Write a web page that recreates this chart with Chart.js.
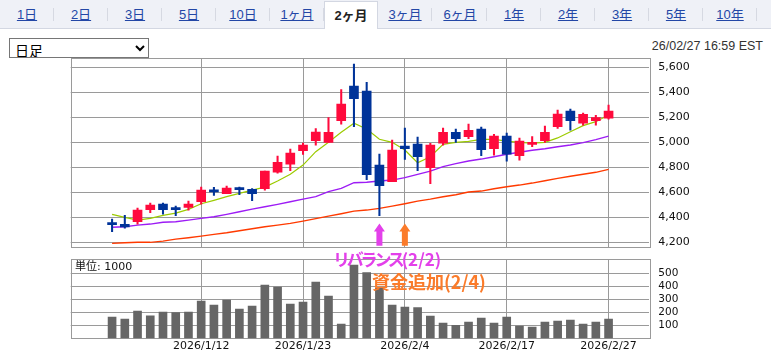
<!DOCTYPE html>
<html lang="ja">
<head>
<meta charset="utf-8">
<script src="https://cdn.jsdelivr.net/npm/chart.js@4"></script>
<style>
  body { margin: 0; background: #fff; }
  #wrap { position: relative; width: 771px; height: 352px; overflow: hidden; font-family: "Liberation Sans", "Noto Sans CJK JP", sans-serif; }
  .strip { position: absolute; left: 0; top: 0; width: 771px; height: 28px; background: #eff1f7; border-bottom: 1px solid #d3d7e2; }
  .tab { position: absolute; top: 0; width: 54px; height: 28px; line-height: 30px; text-align: center; font-size: 13px; color: #2347a6; text-decoration: underline; }
  .tab::after { content: ""; position: absolute; right: 0; top: 8px; height: 13px; border-right: 1px solid #d6d9e2; }
  .tab.on { top: 1px; height: 28px; background: #fff; border: 1px solid #d3d7e2; border-bottom: none; color: #222; font-weight: bold; text-decoration: none; box-sizing: border-box; line-height: 28px; }
  .tab.on::after { display: none; }
  select { position: absolute; left: 9px; top: 38px; width: 140px; height: 20px; font-size: 14px; line-height: 18px; font-family: "Noto Sans CJK JP"; border: 1px solid #767676; border-radius: 0; background: #fff; padding: 0 1px; color: #000; }
  .stamp { position: absolute; right: 8px; top: 38px; line-height: 16px; font-size: 12.5px; color: #333; }
  canvas { position: absolute; left: 0; }
  .unit { position: absolute; left: 75px; top: 260px; font-size: 11px; line-height: 13px; font-family: "DejaVu Sans", "Noto Sans CJK JP"; color: #111; }
  .note { position: absolute; font-family: "Noto Sans CJK JP"; font-weight: bold; white-space: nowrap; z-index: 2; }
  .n1 { left: 333px; top: 250px; font-size: 17px; line-height: 17px; color: #e340ea; }
  .n1 span { letter-spacing: -3.2px; }
  .n2 { left: 372px; top: 272px; font-size: 18px; line-height: 18px; color: #fb7b2a; }
</style>
</head>
<body>
<div id="wrap">
  <div class="strip"></div>
  <div class="tab" style="left:0px">1日</div>
  <div class="tab" style="left:54px">2日</div>
  <div class="tab" style="left:108px">3日</div>
  <div class="tab" style="left:162px">5日</div>
  <div class="tab" style="left:216px">10日</div>
  <div class="tab" style="left:270px">1ヶ月</div>
  <div class="tab on" style="left:324px">2ヶ月</div>
  <div class="tab" style="left:378px">3ヶ月</div>
  <div class="tab" style="left:433px">6ヶ月</div>
  <div class="tab" style="left:487px">1年</div>
  <div class="tab" style="left:541px">2年</div>
  <div class="tab" style="left:595px">3年</div>
  <div class="tab" style="left:649px">5年</div>
  <div class="tab" style="left:703px">10年</div>
  <select><option>日足</option></select>
  <div class="stamp">26/02/27 16:59 EST</div>
  <canvas id="price" width="771" height="205" style="top:50px"></canvas>
  <canvas id="vol" width="771" height="102" style="top:250px"></canvas>
  <div class="unit">単位: 1000</div>
  <div class="note n1"><span>リバランス</span>(2/2)</div>
  <div class="note n2">資金追加(2/4)</div>
</div>
<script>
// trading days shown (index = position on the x axis)
var dates = ['12/31','1/2','1/5','1/6','1/7','1/8','1/9','1/12','1/13','1/14','1/15','1/16','1/20','1/21','1/22','1/23',
  '1/26','1/27','1/28','1/29','1/30','2/2','2/3','2/4','2/5','2/6','2/9','2/10','2/11','2/12','2/13',
  '2/17','2/18','2/19','2/20','2/23','2/24','2/25','2/26','2/27'];

var opens  = [4350,4344,4365,4461,4506,4466,4480,4525,4608,4590,4634,4624,4629,4762,4826,4933,5013,5000,5173,5450,
              5410,4818,4685,4970,4986,4797,4994,5080,5045,5106,4949,5050,4893,4984,5013,5125,5250,5154,5173,5194];
var highs  = [4386,4416,4474,4514,4514,4490,4530,4642,4640,4650,4642,4629,4770,4890,4946,4994,5109,5197,5421,5626,
              5480,4906,5018,5114,5042,4992,5114,5106,5146,5122,5064,5074,5034,5045,5130,5258,5266,5234,5216,5298];
var lows   = [4285,4314,4346,4437,4426,4413,4458,4506,4576,4589,4581,4533,4618,4754,4773,4904,4978,5000,5146,5125,
              4701,4413,4685,4864,4773,4669,4978,5000,5029,4893,4898,4850,4858,4965,5000,5112,5098,5138,5138,5186];
var closes = [4342,4323,4458,4498,4461,4462,4506,4618,4603,4634,4621,4590,4770,4840,4914,4978,5082,5080,5306,5349,
              4741,4653,4938,4949,4885,4978,5080,5029,5096,4941,5050,4906,5010,5000,5080,5226,5173,5224,5197,5250];

// moving averages
var ma5  = [4424,4400,4378,4392,4416,4434,4464,4509,4536,4565,4592,4618,4642,4690,4744,4818,4925,5000,5080,5152,
            5106,5024,5000,4938,4837,4885,4984,5000,5008,5024,5024,5010,5000,4994,5000,5035,5085,5133,5165,5218];
var ma25 = [4320,4325,4338,4346,4360,4365,4378,4392,4405,4424,4445,4466,4485,4504,4525,4546,4565,4605,4632,4677,
            4680,4690,4698,4717,4744,4770,4805,4829,4850,4866,4885,4904,4920,4936,4949,4965,4978,4997,5021,5050];
var ma75 = [4192,4197,4200,4200,4210,4226,4237,4250,4264,4277,4293,4309,4325,4338,4352,4370,4390,4410,4429,4450,
            4458,4472,4490,4509,4530,4546,4565,4581,4602,4610,4629,4645,4658,4674,4693,4712,4728,4744,4760,4784];

// volume, unit 1000
var volume = [164,148,210,172,202,197,202,287,256,295,225,248,410,395,264,279,433,325,110,564,
              505,385,256,241,236,171,118,100,125,156,118,164,95,87,125,133,140,110,125,148];

var dateTicks = [7, 15, 23, 31, 39];
var dateTickLabels = ['2026/1/12','2026/1/23','2026/2/4','2026/2/17','2026/2/27'];
var priceTicks = [4200,4400,4600,4800,5000,5200,5400,5600];
var volTicks = [100,200,300,400,500];
var arrowDays = [21, 23];
var arrowColors = ['#e340ea', '#fb7b2a'];

var UP = '#ff0a3c', DOWN = '#003399', GRID = '#9a9a9a';
var candleColors = opens.map(function (o, i) { return closes[i] >= o ? UP : DOWN; });

Chart.defaults.font.family = 'DejaVu Sans';
Chart.defaults.font.size = 11;
Chart.defaults.color = '#111';

var frame = {
  id: 'frame',
  beforeDatasetsDraw: function (chart) {
    var a = chart.chartArea, ctx = chart.ctx;
    ctx.save();
    ctx.strokeStyle = GRID;
    ctx.lineWidth = 1;
    ctx.strokeRect(Math.round(a.left) + 0.5, Math.round(a.top) + 0.5, Math.round(a.right - a.left), Math.round(a.bottom - a.top));
    ctx.restore();
  }
};

var arrows = {
  id: 'arrows',
  afterDatasetsDraw: function (chart) {
    var ctx = chart.ctx, xs = chart.scales.x, ys = chart.scales.y;
    arrowDays.forEach(function (d, k) {
      var x = xs.getPixelForValue(d);
      var tip = ys.getPixelForValue(4350), base = ys.getPixelForValue(4172);
      ctx.save();
      ctx.fillStyle = arrowColors[k];
      ctx.beginPath();
      ctx.moveTo(x, tip);
      ctx.lineTo(x + 5.5, tip + 8);
      ctx.lineTo(x + 3, tip + 8);
      ctx.lineTo(x + 3, base);
      ctx.lineTo(x - 3, base);
      ctx.lineTo(x - 3, tip + 8);
      ctx.lineTo(x - 5.5, tip + 8);
      ctx.closePath();
      ctx.fill();
      ctx.restore();
    });
  }
};

function fixY(s) { s.width = 60; s.paddingTop = 0; s.paddingBottom = 0; }
function pts(arr) { return arr.map(function (v, i) { return { x: i, y: v }; }); }
function dateTickBuild(s) { s.ticks = dateTicks.map(function (v) { return { value: v }; }); }

new Chart(document.getElementById('price'), {
  type: 'bar',
  data: {
    datasets: [
      { type: 'bar', data: opens.map(function (o, i) { return { x: i, y: [o, closes[i]] }; }),
        backgroundColor: candleColors, barThickness: 9, minBarLength: 2, grouped: false, order: 0 },
      { type: 'bar', data: lows.map(function (l, i) { return { x: i, y: [l, highs[i]] }; }),
        backgroundColor: candleColors, barThickness: 1.4, grouped: false, order: 1 },
      { type: 'line', data: pts(ma5), borderColor: '#9ccb00', borderWidth: 1.2, pointRadius: 0, order: 2 },
      { type: 'line', data: pts(ma25), borderColor: '#9d1cf5', borderWidth: 1.4, pointRadius: 0, order: 3 },
      { type: 'line', data: pts(ma75), borderColor: '#ff3a00', borderWidth: 1.4, pointRadius: 0, order: 4 }
    ]
  },
  options: {
    responsive: false,
    animation: false,
    layout: { padding: { left: 70.7, top: 8.3, right: 61.7, bottom: 7.3 } },
    plugins: { legend: { display: false }, tooltip: { enabled: false } },
    scales: {
      x: {
        type: 'linear', min: -3.25, max: 42.2, offset: false,
        afterBuildTicks: dateTickBuild,
        afterFit: function (s) { s.height = 0; s.paddingLeft = 0; s.paddingRight = 0; },
        ticks: { display: false },
        grid: { color: GRID, drawTicks: false, offset: false },
        border: { display: false }
      },
      y: {
        position: 'right', min: 4157, max: 5672,
        afterBuildTicks: function (s) { s.ticks = priceTicks.map(function (v) { return { value: v }; }); },
        afterFit: fixY,
        ticks: { padding: 9, callback: function (v) { return v.toLocaleString('en-US'); } },
        grid: { color: GRID, drawTicks: false },
        border: { display: false }
      }
    }
  },
  plugins: [frame, arrows]
});

new Chart(document.getElementById('vol'), {
  type: 'bar',
  data: {
    datasets: [
      { data: pts(volume), backgroundColor: '#666666', barThickness: 8 }
    ]
  },
  options: {
    responsive: false,
    animation: false,
    layout: { padding: { left: 70.7, top: 9.3, right: 61.7, bottom: 0 } },
    plugins: { legend: { display: false }, tooltip: { enabled: false } },
    scales: {
      x: {
        type: 'linear', min: -3.25, max: 42.2, offset: false,
        afterBuildTicks: dateTickBuild,
        afterFit: function (s) { s.height = 13.7; s.paddingLeft = 0; s.paddingRight = 0; },
        ticks: { padding: 1, autoSkip: false, maxRotation: 0, callback: function (v, i) { return dateTickLabels[i]; } },
        grid: { color: GRID, drawTicks: false, offset: false },
        border: { display: false }
      },
      y: {
        position: 'right', min: 0, max: 608,
        afterBuildTicks: function (s) { s.ticks = volTicks.map(function (v) { return { value: v }; }); },
        afterFit: fixY,
        ticks: { padding: 9, font: { size: 10.5 } },
        grid: { color: GRID, drawTicks: false },
        border: { display: false }
      }
    }
  },
  plugins: [frame]
});
</script>
</body>
</html>
